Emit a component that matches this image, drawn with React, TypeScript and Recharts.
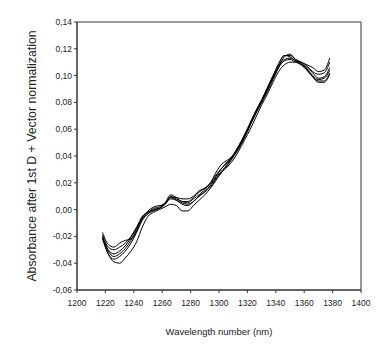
import React from 'react';
import { LineChart, Line, XAxis, YAxis, ReferenceArea } from 'recharts';

const wavelengths = [
  1218, 1222, 1226, 1230, 1234, 1238, 1242, 1246, 1250, 1254, 1258, 1262, 1266, 1270,
  1274, 1278, 1282, 1286, 1290, 1294, 1298, 1302, 1306, 1310, 1314, 1318, 1322, 1326,
  1330, 1334, 1338, 1342, 1346, 1350, 1354, 1358, 1362, 1366, 1370, 1374, 1378,
];

const spectrum1 = [
  -0.017, -0.026, -0.028, -0.025, -0.023, -0.022, -0.016, -0.006, -0.001, 0.002, 0.003, 0.004, 0.009, 0.009,
  0.008, 0.008, 0.010, 0.014, 0.016, 0.020, 0.028, 0.034, 0.037, 0.040, 0.046, 0.054, 0.063, 0.072,
  0.080, 0.088, 0.097, 0.106, 0.114, 0.116, 0.112, 0.110, 0.108, 0.106, 0.103, 0.104, 0.113,
];
const spectrum2 = [
  -0.019, -0.028, -0.030, -0.028, -0.025, -0.020, -0.013, -0.005, -0.002, 0.000, 0.001, 0.004, 0.010, 0.008,
  0.006, 0.005, 0.008, 0.011, 0.015, 0.020, 0.026, 0.031, 0.035, 0.040, 0.047, 0.055, 0.064, 0.073,
  0.081, 0.090, 0.099, 0.108, 0.115, 0.115, 0.112, 0.110, 0.107, 0.103, 0.101, 0.102, 0.110,
];
const spectrum3 = [
  -0.020, -0.030, -0.033, -0.031, -0.027, -0.021, -0.014, -0.007, -0.003, -0.001, 0.001, 0.005, 0.011, 0.009,
  0.006, 0.006, 0.009, 0.013, 0.016, 0.019, 0.025, 0.031, 0.036, 0.041, 0.048, 0.056, 0.065, 0.074,
  0.082, 0.091, 0.100, 0.109, 0.115, 0.114, 0.111, 0.109, 0.106, 0.102, 0.098, 0.099, 0.106,
];
const spectrum4 = [
  -0.021, -0.031, -0.035, -0.033, -0.029, -0.023, -0.015, -0.006, -0.002, 0.001, 0.002, 0.005, 0.008, 0.007,
  0.005, 0.004, 0.006, 0.010, 0.014, 0.018, 0.024, 0.029, 0.034, 0.040, 0.047, 0.055, 0.064, 0.073,
  0.081, 0.090, 0.099, 0.107, 0.112, 0.113, 0.111, 0.109, 0.105, 0.100, 0.097, 0.098, 0.104,
];
const spectrum5 = [
  -0.022, -0.033, -0.037, -0.035, -0.031, -0.025, -0.017, -0.008, -0.003, 0.000, 0.001, 0.004, 0.009, 0.007,
  0.004, 0.003, 0.006, 0.010, 0.013, 0.017, 0.023, 0.028, 0.033, 0.039, 0.046, 0.054, 0.063, 0.072,
  0.080, 0.089, 0.098, 0.106, 0.111, 0.112, 0.110, 0.108, 0.104, 0.099, 0.096, 0.096, 0.102,
];
const spectrum6 = [
  -0.021, -0.033, -0.039, -0.040, -0.036, -0.031, -0.024, -0.013, -0.005, -0.002, 0.000, 0.002, 0.004, 0.003,
  -0.001, -0.001, 0.003, 0.007, 0.011, 0.016, 0.022, 0.028, 0.032, 0.037, 0.044, 0.052, 0.060, 0.069,
  0.078, 0.086, 0.095, 0.103, 0.108, 0.110, 0.110, 0.108, 0.104, 0.099, 0.095, 0.095, 0.101,
];

const xTicks = [1200, 1220, 1240, 1260, 1280, 1300, 1320, 1340, 1360, 1380, 1400];
const yTicks = [-0.06, -0.04, -0.02, 0, 0.02, 0.04, 0.06, 0.08, 0.1, 0.12, 0.14];

const spectra = [spectrum1, spectrum2, spectrum3, spectrum4, spectrum5, spectrum6];

const data = wavelengths.map((w, i) => {
  const row: Record<string, number> = { w };
  spectra.forEach((s, k) => {
    row[`s${k + 1}`] = s[i];
  });
  return row;
});

const font = '"Liberation Sans", Arial, sans-serif';
const tickStyle = { fontSize: 8.5, fill: '#222', fontFamily: font };

export default function App() {
  return (
    <div style={{ position: 'absolute', left: 0, top: 0, background: '#fff' }}>
      <LineChart width={392} height={344} data={data} margin={{ top: 22, right: 31, bottom: 8, left: 0 }}>
        <XAxis
          dataKey="w"
          type="number"
          domain={[1200, 1400]}
          ticks={xTicks}
          tickSize={3}
          tickMargin={7}
          height={46}
          stroke="#333"
          tick={tickStyle}
          label={{ value: 'Wavelength number (nm)', position: 'insideBottom', offset: 1, style: { fontSize: 9.5, fill: '#222', fontFamily: font } }}
        />
        <YAxis
          type="number"
          domain={[-0.06, 0.14]}
          ticks={yTicks}
          tickSize={3}
          tickMargin={2}
          width={77}
          stroke="#333"
          tick={tickStyle}
          tickFormatter={(v: number) => v.toFixed(2).replace('.', ',')}
          label={{ value: 'Absorbance after 1st D + Vector normalization', angle: -90, position: 'insideLeft', offset: 32, style: { fontSize: 12.3, fill: '#222', fontFamily: font, textAnchor: 'middle' } }}
        />
        <ReferenceArea x1={1200} x2={1400} y1={-0.06} y2={0.14} fill="none" stroke="#333" strokeWidth={1} />
        {spectra.map((_, k) => (
          <Line
            key={k}
            dataKey={`s${k + 1}`}
            type="monotone"
            stroke="#000"
            strokeWidth={1}
            dot={false}
            isAnimationActive={false}
          />
        ))}
      </LineChart>
    </div>
  );
}
